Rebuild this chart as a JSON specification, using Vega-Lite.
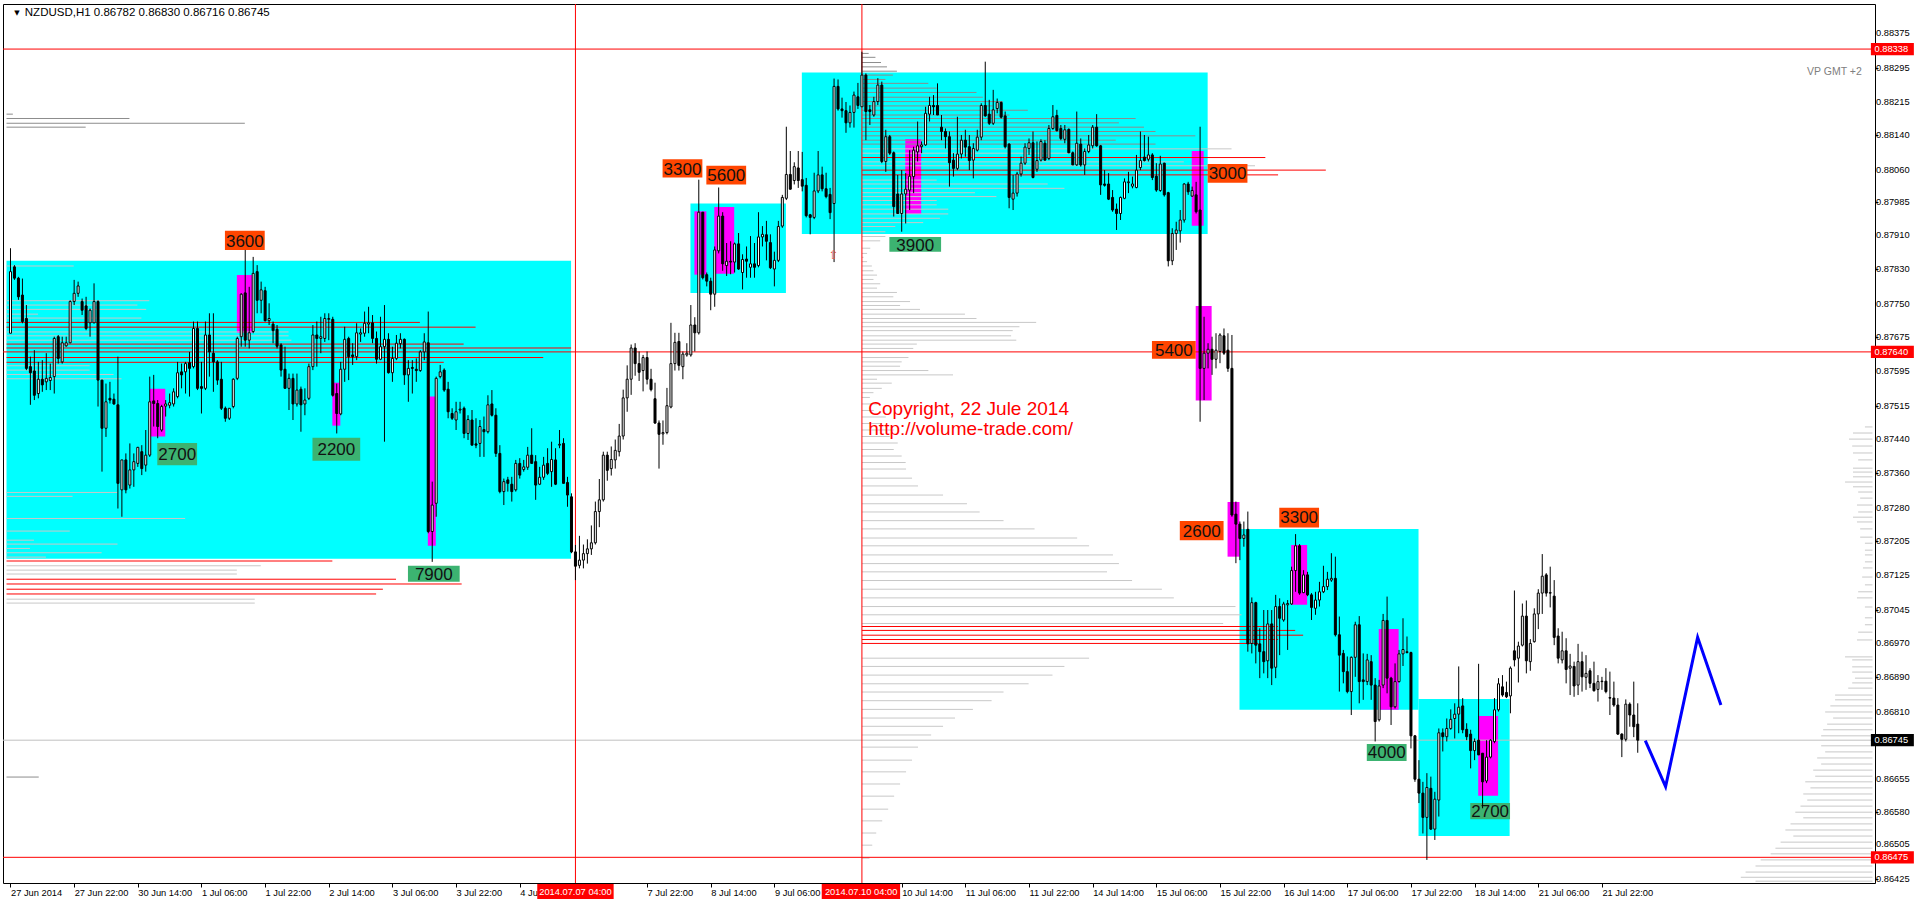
{
"$schema": "https://vega.github.io/schema/vega-lite/v6.json",
"width": 1872, "height": 879, "autosize": "none",
"padding": {"left": 3, "top": 4, "right": 45, "bottom": 20},
"background": "white",
"config": {"view": {"stroke": "#000000", "strokeWidth": 1}},
"layer": [
{"data": {"values": [{"i1":-1,"i2":140.9,"p1":0.87163,"p2":0.87850},{"i1":170.9,"i2":194.9,"p1":0.87776,"p2":0.87982},{"i1":198.9,"i2":300.9,"p1":0.87912,"p2":0.88284},{"i1":308.9,"i2":353.9,"p1":0.86815,"p2":0.87232},{"i1":353.9,"i2":376.8,"p1":0.86524,"p2":0.86840}]},
 "mark": {"type": "rect", "color": "#00FFFF", "clip": true},
 "encoding": {"x": {"field": "i1", "type": "quantitative", "scale": {"domain": [-0.625, 467.375], "nice": false, "zero": false},
     "axis": {"orient": "bottom", "values": [0,16,32,48,64,80,96,112,128,144,160,176,192,208,224,240,256,272,288,304,320,336,352,368,384,400],
      "labelExpr": "['27 Jun 2014','27 Jun 22:00','30 Jun 14:00','1 Jul 06:00','1 Jul 22:00','2 Jul 14:00','3 Jul 06:00','3 Jul 22:00','4 Ju','','7 Jul 22:00','8 Jul 14:00','9 Jul 06:00','','10 Jul 14:00','11 Jul 06:00','11 Jul 22:00','14 Jul 14:00','15 Jul 06:00','15 Jul 22:00','16 Jul 14:00','17 Jul 06:00','17 Jul 22:00','18 Jul 14:00','21 Jul 06:00','21 Jul 22:00'][round(datum.value/16)]",
      "title": null, "grid": false, "domain": false, "ticks": true, "tickSize": 4, "tickColor": "#000000", "labelAlign": "left", "labelBaseline": "top", "labelPadding": 1,
      "labelFont": "Liberation Sans", "labelFontSize": 9.3, "labelColor": "#000000", "labelOverlap": false, "labelFlush": false, "labelBound": false}},
  "x2": {"field": "i2"},
  "y": {"field": "p1", "type": "quantitative", "scale": {"domain": [0.864158, 0.884419], "nice": false, "zero": false},
     "axis": {"orient": "right", "values": [0.88375,0.88295,0.88215,0.8814,0.8806,0.87985,0.8791,0.8783,0.8775,0.87675,0.87595,0.87515,0.8744,0.8736,0.8728,0.87205,0.87125,0.87045,0.8697,0.8689,0.8681,0.86735,0.86655,0.8658,0.86505,0.86425],
      "labels": false, "title": null, "grid": false, "domain": false, "tickSize": 3, "tickColor": "#000000"}},
  "y2": {"field": "p2"}}},
{"data": {"values": [{"i1":35.05,"i2":38.9,"p1":0.87445,"p2":0.87555},{"i1":56.9,"i2":60.9,"p1":0.87684,"p2":0.87817},{"i1":80.9,"i2":82.9,"p1":0.87470,"p2":0.87569},{"i1":104.9,"i2":106.9,"p1":0.87193,"p2":0.87537},{"i1":171.9,"i2":174.9,"p1":0.87818,"p2":0.87964},{"i1":176.9,"i2":181.9,"p1":0.87820,"p2":0.87974},{"i1":224.9,"i2":228.9,"p1":0.87958,"p2":0.88131},{"i1":296.9,"i2":299.9,"p1":0.87931,"p2":0.88103},{"i1":297.9,"i2":301.9,"p1":0.87528,"p2":0.87746},{"i1":305.9,"i2":308.9,"p1":0.87168,"p2":0.87294},{"i1":321.9,"i2":325.9,"p1":0.87057,"p2":0.87195},{"i1":343.9,"i2":348.9,"p1":0.86815,"p2":0.87001},{"i1":368.9,"i2":373.9,"p1":0.86617,"p2":0.86801}]},
 "mark": {"type": "rect", "color": "#FF00FF", "clip": true},
 "encoding": {"x": {"field": "i1", "type": "quantitative", "scale": {"domain": [-0.625, 467.375], "nice": false, "zero": false}}, "x2": {"field": "i2"},
  "y": {"field": "p1", "type": "quantitative", "scale": {"domain": [0.864158, 0.884419], "nice": false, "zero": false}}, "y2": {"field": "p2"}}},
{"data": {"values": "i1,i2,p,k\n-1,0.6,0.88188,d\n-1,29.9,0.88178,d\n-1,58.9,0.88167,d\n-1,18.9,0.88158,d\n-1,15.9,0.87838,s\n-1,34.9,0.87758,s\n-1,31.9,0.87748,s\n-1,34.1,0.87738,s\n-1,6.9,0.87727,s\n-1,32.9,0.87718,s\n-1,102.9,0.87708,r\n-1,116.9,0.87697,r\n-1,69.9,0.87686,s\n-1,69.9,0.87677,s\n-1,70.6,0.87667,s\n-1,113.9,0.87658,r\n-1,140.9,0.87649,r\n-1,133.9,0.87627,r\n-1,108.9,0.87616,r\n-1,19.9,0.87608,s\n-1,19.9,0.87598,s\n-1,25.9,0.87588,s\n-1,27.9,0.87578,s\n-1,26.9,0.87316,s\n-1,15.6,0.87307,s\n-1,43.9,0.87256,s\n-1,14.9,0.87227,s\n-1,5.9,0.87206,s\n-1,26.9,0.87197,s\n-1,4.9,0.87187,s\n-1,22.9,0.87177,s\n-1,8.9,0.87167,s\n-1,80.9,0.87158,r\n-1,62.9,0.87147,s\n-1,56.9,0.87137,s\n-1,56.9,0.87128,s\n-1,96.9,0.87116,r\n-1,113.4,0.87105,r\n-1,93.6,0.87093,r\n-1,91.9,0.87082,r\n-1,61.4,0.87070,s\n-1,61.4,0.87061,s\n-1,7.1,0.86660,d\n214,215.7,0.88328,d\n214,217.4,0.88319,d\n214,218.8,0.88307,d\n214,220.3,0.88297,d\n214,222.8,0.88287,d\n214,221.8,0.88278,d\n214,219.9,0.88268,d\n214,230.7,0.88259,d\n214,232.8,0.88248,d\n214,242.8,0.88238,d\n214,244.4,0.88227,d\n214,249.4,0.88217,d\n214,246.9,0.88207,d\n214,255.7,0.88197,d\n214,251.1,0.88186,d\n214,282.8,0.88178,d\n214,278.6,0.88168,d\n214,284.9,0.88158,d\n214,287.8,0.88148,d\n214,297.8,0.88138,d\n214,277.8,0.88128,d\n214,287.8,0.88119,d\n214,306.9,0.88108,s\n214,267.8,0.88098,s\n214,315.4,0.88088,r\n214,294.9,0.88078,s\n214,312.8,0.88069,s\n214,330.6,0.88059,r\n214,318.6,0.88048,r\n214,232.8,0.88036,s\n214,260.7,0.88027,s\n214,264.9,0.88017,s\n214,242.4,0.88007,s\n214,247.8,0.87998,s\n214,232.8,0.87989,s\n214,232.8,0.87979,s\n214,235.7,0.87969,s\n214,235.7,0.87958,s\n214,233.6,0.87948,s\n214,229.4,0.87938,s\n214,222.4,0.87929,s\n214,219.9,0.87917,s\n214,219.9,0.87906,s\n214,218.6,0.87896,s\n214,216.1,0.87879,s\n214,215.3,0.87867,s\n214,214.4,0.87858,s\n214,215.3,0.87848,s\n214,216.5,0.87838,s\n214,216.9,0.87827,s\n214,217.8,0.87817,s\n214,216.9,0.87807,s\n214,218.6,0.87797,s\n214,217.8,0.87787,s\n214,222.8,0.87777,s\n214,221.9,0.87767,s\n214,226.1,0.87756,s\n214,223.6,0.87747,s\n214,228.6,0.87738,s\n214,239.9,0.87727,s\n214,242.8,0.87717,s\n214,257.8,0.87708,s\n214,253.6,0.87698,s\n214,251.9,0.87689,s\n214,251.5,0.87677,s\n214,252.8,0.87667,s\n214,227.8,0.87658,s\n214,226.9,0.87648,s\n214,225.7,0.87627,s\n214,224,0.87617,s\n214,223.6,0.87607,s\n214,230.7,0.87597,s\n214,236.9,0.87587,s\n214,217.8,0.87577,s\n214,221.5,0.87568,s\n214,219,0.87556,s\n214,216.9,0.87546,s\n214,216,0.87535,s\n214,218,0.87520,s\n214,217,0.87505,s\n214,220,0.87490,s\n214,219,0.87475,s\n214,222,0.87460,s\n214,221,0.87445,s\n214,223,0.87430,s\n214,222,0.87415,s\n214,224,0.87400,s\n214,225,0.87385,s\n214,225.1,0.87370,s\n214,226.6,0.87349,s\n214,228.1,0.87331,s\n214,234.4,0.87310,s\n214,240.4,0.87290,s\n214,243.6,0.87271,s\n214,249.6,0.87251,s\n214,257.4,0.87232,s\n214,268.1,0.87211,s\n214,271.1,0.87193,s\n214,277.1,0.87172,s\n214,278.6,0.87152,s\n214,275.6,0.87133,s\n214,281.9,0.87113,s\n214,289.4,0.87093,s\n214,292.4,0.87073,s\n214,307.9,0.87053,s\n214,309.4,0.87034,s\n214,304.8,0.87014,s\n214,318.6,0.87007,r\n214,322.9,0.86998,r\n214,324.9,0.86987,r\n214,318.6,0.86977,r\n214,313.6,0.86968,r\n214,271.1,0.86934,s\n214,264.9,0.86915,s\n214,261.9,0.86895,s\n214,255.9,0.86875,s\n214,249.6,0.86856,s\n214,246.6,0.86836,s\n214,241.9,0.86816,s\n214,237.4,0.86796,s\n214,234.4,0.86777,s\n214,231.4,0.86757,s\n214,228.1,0.86729,s\n214,226.6,0.86699,s\n214,225.1,0.86672,s\n214,223.6,0.86644,s\n214,222.1,0.86616,s\n214,220.6,0.86586,s\n214,219.1,0.86559,s\n214,217.6,0.86531,s\n214,216.6,0.86503,s\n214,215.9,0.86473,s\n466.1,468,0.87467,s\n463.1,468,0.87453,s\n462.1,468,0.87439,s\n462.9,468,0.87423,s\n463.1,468,0.87407,s\n464.4,468,0.87391,s\n463.1,468,0.87372,s\n463.1,468,0.87363,s\n463.1,468,0.87352,s\n461.1,468,0.87340,s\n463.1,468,0.87329,s\n464.4,468,0.87317,s\n464.9,468,0.87303,s\n464.1,468,0.87287,s\n464.4,468,0.87271,s\n463.1,468,0.87259,s\n464.1,468,0.87248,s\n464.9,468,0.87232,s\n464.9,468,0.87213,s\n466.1,468,0.87199,s\n466.1,468,0.87183,s\n466.1,468,0.87172,s\n466.1,468,0.87156,s\n465.6,468,0.87142,s\n465.4,468,0.87121,s\n466.1,468,0.87103,s\n464.4,468,0.87087,s\n464.1,468,0.87073,s\n466.1,468,0.87052,s\n466.1,468,0.87027,s\n466.1,468,0.87011,s\n464.4,468,0.86994,s\n464.1,468,0.86976,s\n461.1,468,0.86937,s\n462.9,468,0.86930,s\n462.9,468,0.86914,s\n462.9,468,0.86902,s\n463.6,468,0.86888,s\n462.9,468,0.86877,s\n461.9,468,0.86865,s\n458.6,468,0.86849,s\n458.6,468,0.86838,s\n457.4,468,0.86824,s\n456.1,468,0.86810,s\n458.1,468,0.86796,s\n456.6,468,0.86782,s\n455.6,468,0.86769,s\n455.1,468,0.86755,s\n455.1,468,0.86732,s\n456.1,468,0.86718,s\n454.1,468,0.86704,s\n455.1,468,0.86690,s\n453.1,468,0.86676,s\n453.6,468,0.86662,s\n451.1,468,0.86649,s\n452.4,468,0.86635,s\n450.6,468,0.86621,s\n451.6,468,0.86607,s\n449.9,468,0.86593,s\n448.6,468,0.86579,s\n450.6,468,0.86566,s\n447.4,468,0.86552,s\n446.1,468,0.86538,s\n448.1,468,0.86524,s\n444.9,468,0.86510,s\n443.6,468,0.86496,s\n442.4,468,0.86483,s\n439.9,468,0.86469,s\n438.6,468,0.86455,s\n436.1,468,0.86441,s\n434.9,468,0.86429,s\n438.6,468,0.86420,s", "format": {"type": "csv", "parse": {"i1": "number", "i2": "number", "p": "number"}}},
 "mark": {"type": "rule", "strokeWidth": 1, "clip": true},
 "encoding": {"x": {"field": "i1", "type": "quantitative", "scale": {"domain": [-0.625, 467.375], "nice": false, "zero": false}}, "x2": {"field": "i2"},
  "y": {"field": "p", "type": "quantitative", "scale": {"domain": [0.864158, 0.884419], "nice": false, "zero": false}},
  "color": {"field": "k", "type": "nominal", "scale": {"domain": ["d", "s", "r"], "range": ["#8C8C8C", "#C8C8C8", "#FF0000"]}, "legend": null}}},
{"data": {"values": [{"p": 0.86745}]},
 "mark": {"type": "rule", "color": "#C0C0C0", "strokeWidth": 1},
 "encoding": {"y": {"field": "p", "type": "quantitative", "scale": {"domain": [0.864158, 0.884419], "nice": false, "zero": false}}}},
{"data": {"values": [{"p": 0.88338}, {"p": 0.87640}, {"p": 0.86475}]},
 "mark": {"type": "rule", "color": "#FF0000", "strokeWidth": 1},
 "encoding": {"y": {"field": "p", "type": "quantitative", "scale": {"domain": [0.864158, 0.884419], "nice": false, "zero": false}}}},
{"data": {"values": [{"i": 142}, {"i": 214}]},
 "mark": {"type": "rule", "color": "#FF0000", "strokeWidth": 1},
 "encoding": {"x": {"field": "i", "type": "quantitative", "scale": {"domain": [-0.625, 467.375], "nice": false, "zero": false}}}},
{"data": {"values": [
  {"t":"3600","g":"o","i1":53.9,"i2":63.9,"p1":0.87875,"p2":0.87919,"ic":58.9,"pc":0.87894},
  {"t":"3300","g":"o","i1":163.9,"i2":173.9,"p1":0.88042,"p2":0.88084,"ic":168.9,"pc":0.88060},
  {"t":"5600","g":"o","i1":174.9,"i2":184.9,"p1":0.88026,"p2":0.88069,"ic":179.9,"pc":0.88045},
  {"t":"3000","g":"o","i1":300.9,"i2":310.9,"p1":0.88030,"p2":0.88073,"ic":305.9,"pc":0.88049},
  {"t":"5400","g":"o","i1":286.9,"i2":297.9,"p1":0.87624,"p2":0.87665,"ic":292.4,"pc":0.87642},
  {"t":"2600","g":"o","i1":293.9,"i2":304.9,"p1":0.87206,"p2":0.87250,"ic":299.4,"pc":0.87226},
  {"t":"3300","g":"o","i1":318.9,"i2":328.9,"p1":0.87235,"p2":0.87281,"ic":323.9,"pc":0.87256},
  {"t":"2700","g":"g","i1":36.9,"i2":46.9,"p1":0.87379,"p2":0.87430,"ic":41.9,"pc":0.87402},
  {"t":"2200","g":"g","i1":75.9,"i2":87.9,"p1":0.87389,"p2":0.87442,"ic":81.9,"pc":0.87413},
  {"t":"7900","g":"g","i1":99.9,"i2":112.9,"p1":0.87110,"p2":0.87147,"ic":106.4,"pc":0.87126},
  {"t":"3900","g":"g","i1":220.9,"i2":233.9,"p1":0.87871,"p2":0.87905,"ic":227.4,"pc":0.87885},
  {"t":"4000","g":"g","i1":340.9,"i2":350.9,"p1":0.86697,"p2":0.86736,"ic":345.9,"pc":0.86715},
  {"t":"2700","g":"g","i1":366.9,"i2":376.9,"p1":0.86563,"p2":0.86600,"ic":371.9,"pc":0.86580}]},
 "layer": [
  {"mark": {"type": "rect"},
   "encoding": {"x": {"field": "i1", "type": "quantitative", "scale": {"domain": [-0.625, 467.375], "nice": false, "zero": false}}, "x2": {"field": "i2"},
    "y": {"field": "p1", "type": "quantitative", "scale": {"domain": [0.864158, 0.884419], "nice": false, "zero": false}}, "y2": {"field": "p2"},
    "color": {"condition": {"test": "datum.g === 'o'", "value": "#FF4500"}, "value": "#3CB371"}}},
  {"mark": {"type": "text", "font": "Liberation Sans", "fontSize": 17, "color": "#111111", "align": "center", "baseline": "middle"},
   "encoding": {"x": {"field": "ic", "type": "quantitative", "scale": {"domain": [-0.625, 467.375], "nice": false, "zero": false}},
    "y": {"field": "pc", "type": "quantitative", "scale": {"domain": [0.864158, 0.884419], "nice": false, "zero": false}},
    "text": {"field": "t"}}}]},
{"data": {"values": "i,o,h,l,c\n0,0.87683,0.87879,0.87683,0.87825\n1,0.87836,0.87840,0.87806,0.87810\n2,0.87810,0.87813,0.87760,0.87767\n3,0.87771,0.87809,0.87706,0.87710\n4,0.87717,0.87748,0.87598,0.87602\n5,0.87606,0.87629,0.87518,0.87592\n6,0.87596,0.87644,0.87529,0.87540\n7,0.87544,0.87617,0.87533,0.87577\n8,0.87577,0.87621,0.87548,0.87564\n9,0.87571,0.87637,0.87552,0.87579\n10,0.87574,0.87613,0.87552,0.87581\n11,0.87583,0.87675,0.87544,0.87671\n12,0.87675,0.87679,0.87613,0.87625\n13,0.87617,0.87675,0.87613,0.87661\n14,0.87654,0.87675,0.87652,0.87661\n15,0.87661,0.87759,0.87660,0.87756\n16,0.87756,0.87806,0.87748,0.87775\n17,0.87775,0.87802,0.87767,0.87792\n18,0.87756,0.87763,0.87725,0.87736\n19,0.87746,0.87767,0.87690,0.87694\n20,0.87707,0.87740,0.87675,0.87736\n21,0.87707,0.87798,0.87706,0.87756\n22,0.87756,0.87759,0.87514,0.87575\n23,0.87575,0.87575,0.87364,0.87464\n24,0.87464,0.87567,0.87444,0.87525\n25,0.87533,0.87571,0.87521,0.87529\n26,0.87531,0.87544,0.87518,0.87520\n27,0.87518,0.87629,0.87279,0.87337\n28,0.87322,0.87391,0.87260,0.87391\n29,0.87391,0.87406,0.87314,0.87322\n30,0.87333,0.87429,0.87325,0.87368\n31,0.87368,0.87406,0.87329,0.87387\n32,0.87383,0.87421,0.87375,0.87420\n33,0.87410,0.87425,0.87356,0.87371\n34,0.87379,0.87460,0.87364,0.87402\n35,0.87402,0.87583,0.87398,0.87525\n36,0.87527,0.87587,0.87468,0.87521\n37,0.87521,0.87529,0.87441,0.87468\n38,0.87460,0.87518,0.87456,0.87514\n39,0.87515,0.87529,0.87491,0.87520\n40,0.87517,0.87544,0.87510,0.87523\n41,0.87520,0.87556,0.87514,0.87548\n42,0.87537,0.87617,0.87533,0.87592\n43,0.87594,0.87613,0.87556,0.87587\n44,0.87594,0.87617,0.87544,0.87613\n45,0.87615,0.87640,0.87537,0.87602\n46,0.87606,0.87710,0.87602,0.87694\n47,0.87694,0.87710,0.87552,0.87556\n48,0.87560,0.87617,0.87498,0.87556\n49,0.87556,0.87710,0.87552,0.87679\n50,0.87679,0.87729,0.87583,0.87640\n51,0.87637,0.87729,0.87548,0.87617\n52,0.87617,0.87621,0.87564,0.87575\n53,0.87577,0.87617,0.87506,0.87510\n54,0.87510,0.87514,0.87479,0.87487\n55,0.87487,0.87510,0.87483,0.87510\n56,0.87514,0.87579,0.87510,0.87577\n57,0.87579,0.87675,0.87575,0.87671\n58,0.87675,0.87775,0.87652,0.87773\n59,0.87776,0.87875,0.87652,0.87667\n60,0.87667,0.87790,0.87648,0.87684\n61,0.87687,0.87859,0.87683,0.87821\n62,0.87825,0.87840,0.87729,0.87759\n63,0.87759,0.87802,0.87729,0.87783\n64,0.87781,0.87790,0.87710,0.87712\n65,0.87712,0.87752,0.87702,0.87717\n66,0.87704,0.87710,0.87660,0.87689\n67,0.87692,0.87702,0.87648,0.87653\n68,0.87656,0.87660,0.87583,0.87598\n69,0.87600,0.87652,0.87556,0.87556\n70,0.87556,0.87590,0.87506,0.87579\n71,0.87579,0.87590,0.87483,0.87520\n72,0.87520,0.87590,0.87514,0.87552\n73,0.87554,0.87560,0.87456,0.87518\n74,0.87520,0.87556,0.87494,0.87529\n75,0.87533,0.87613,0.87529,0.87606\n76,0.87606,0.87702,0.87598,0.87679\n77,0.87679,0.87710,0.87606,0.87671\n78,0.87671,0.87721,0.87637,0.87675\n79,0.87671,0.87729,0.87663,0.87717\n80,0.87715,0.87729,0.87667,0.87717\n81,0.87715,0.87721,0.87537,0.87540\n82,0.87544,0.87567,0.87452,0.87498\n83,0.87497,0.87617,0.87494,0.87600\n84,0.87600,0.87698,0.87571,0.87669\n85,0.87671,0.87675,0.87575,0.87629\n86,0.87633,0.87660,0.87610,0.87629\n87,0.87629,0.87706,0.87621,0.87684\n88,0.87681,0.87694,0.87663,0.87684\n89,0.87683,0.87733,0.87675,0.87706\n90,0.87704,0.87744,0.87683,0.87707\n91,0.87707,0.87725,0.87660,0.87671\n92,0.87671,0.87687,0.87613,0.87623\n93,0.87623,0.87721,0.87621,0.87652\n94,0.87652,0.87748,0.87433,0.87669\n95,0.87669,0.87683,0.87590,0.87592\n96,0.87592,0.87652,0.87571,0.87625\n97,0.87625,0.87679,0.87621,0.87660\n98,0.87659,0.87683,0.87648,0.87669\n99,0.87669,0.87671,0.87564,0.87587\n100,0.87587,0.87621,0.87525,0.87602\n101,0.87604,0.87621,0.87544,0.87602\n102,0.87600,0.87625,0.87571,0.87597\n103,0.87597,0.87644,0.87594,0.87640\n104,0.87640,0.87683,0.87621,0.87663\n105,0.87661,0.87733,0.87222,0.87226\n106,0.87226,0.87341,0.87156,0.87287\n107,0.87291,0.87583,0.87260,0.87579\n108,0.87583,0.87610,0.87579,0.87594\n109,0.87598,0.87602,0.87548,0.87552\n110,0.87554,0.87571,0.87487,0.87502\n111,0.87498,0.87510,0.87483,0.87487\n112,0.87483,0.87525,0.87460,0.87502\n113,0.87506,0.87525,0.87498,0.87508\n114,0.87510,0.87514,0.87441,0.87452\n115,0.87452,0.87494,0.87437,0.87484\n116,0.87483,0.87506,0.87425,0.87425\n117,0.87428,0.87487,0.87418,0.87425\n118,0.87429,0.87483,0.87398,0.87468\n119,0.87461,0.87491,0.87398,0.87456\n120,0.87456,0.87540,0.87452,0.87518\n121,0.87520,0.87552,0.87491,0.87494\n122,0.87494,0.87510,0.87398,0.87406\n123,0.87406,0.87425,0.87314,0.87318\n124,0.87318,0.87348,0.87287,0.87341\n125,0.87345,0.87352,0.87318,0.87337\n126,0.87335,0.87352,0.87295,0.87318\n127,0.87322,0.87391,0.87318,0.87383\n128,0.87383,0.87395,0.87348,0.87356\n129,0.87369,0.87391,0.87364,0.87375\n130,0.87374,0.87421,0.87368,0.87402\n131,0.87402,0.87464,0.87383,0.87383\n132,0.87387,0.87402,0.87299,0.87333\n133,0.87335,0.87375,0.87333,0.87351\n134,0.87351,0.87398,0.87345,0.87379\n135,0.87383,0.87418,0.87356,0.87360\n136,0.87364,0.87433,0.87329,0.87392\n137,0.87391,0.87418,0.87333,0.87335\n138,0.87425,0.87460,0.87418,0.87427\n139,0.87429,0.87441,0.87337,0.87337\n140,0.87339,0.87352,0.87283,0.87310\n141,0.87306,0.87314,0.87176,0.87179\n142,0.87179,0.87195,0.87114,0.87146\n143,0.87148,0.87216,0.87141,0.87160\n144,0.87160,0.87196,0.87141,0.87175\n145,0.87175,0.87208,0.87152,0.87186\n146,0.87186,0.87240,0.87172,0.87200\n147,0.87200,0.87295,0.87196,0.87272\n148,0.87272,0.87347,0.87236,0.87299\n149,0.87299,0.87410,0.87295,0.87402\n150,0.87402,0.87410,0.87343,0.87367\n151,0.87371,0.87422,0.87355,0.87392\n152,0.87391,0.87438,0.87371,0.87413\n153,0.87410,0.87474,0.87399,0.87446\n154,0.87446,0.87553,0.87438,0.87534\n155,0.87534,0.87609,0.87502,0.87577\n156,0.87577,0.87657,0.87541,0.87649\n157,0.87649,0.87660,0.87585,0.87613\n158,0.87613,0.87641,0.87573,0.87593\n159,0.87597,0.87633,0.87549,0.87627\n160,0.87627,0.87641,0.87565,0.87577\n161,0.87577,0.87601,0.87549,0.87553\n162,0.87532,0.87569,0.87474,0.87476\n163,0.87476,0.87482,0.87371,0.87450\n164,0.87451,0.87482,0.87426,0.87454\n165,0.87454,0.87557,0.87450,0.87516\n166,0.87513,0.87707,0.87510,0.87613\n167,0.87613,0.87684,0.87597,0.87662\n168,0.87664,0.87684,0.87597,0.87609\n169,0.87606,0.87641,0.87577,0.87635\n170,0.87633,0.87660,0.87629,0.87637\n171,0.87633,0.87748,0.87629,0.87702\n172,0.87702,0.87720,0.87641,0.87684\n173,0.87684,0.88037,0.87680,0.87962\n174,0.87962,0.87962,0.87807,0.87811\n175,0.87818,0.87823,0.87791,0.87803\n176,0.87803,0.87811,0.87736,0.87773\n177,0.87773,0.87883,0.87744,0.87875\n178,0.87873,0.88019,0.87867,0.87953\n179,0.87953,0.87962,0.87827,0.87843\n180,0.87839,0.87891,0.87815,0.87849\n181,0.87849,0.87895,0.87819,0.87847\n182,0.87847,0.87892,0.87823,0.87889\n183,0.87889,0.87914,0.87829,0.87831\n184,0.87823,0.87865,0.87784,0.87853\n185,0.87854,0.87883,0.87811,0.87849\n186,0.87835,0.87907,0.87811,0.87843\n187,0.87843,0.87891,0.87811,0.87835\n188,0.87839,0.87962,0.87835,0.87905\n189,0.87905,0.87930,0.87883,0.87911\n190,0.87910,0.87942,0.87851,0.87895\n191,0.87892,0.87911,0.87831,0.87834\n192,0.87831,0.87871,0.87791,0.87851\n193,0.87851,0.87942,0.87847,0.87929\n194,0.87930,0.88002,0.87926,0.87996\n195,0.87994,0.88159,0.87990,0.88049\n196,0.88049,0.88103,0.88014,0.88015\n197,0.88035,0.88077,0.88026,0.88067\n198,0.88064,0.88103,0.88018,0.88035\n199,0.88037,0.88101,0.88010,0.88022\n200,0.88024,0.88041,0.87950,0.87954\n201,0.87956,0.87958,0.87911,0.87950\n202,0.87950,0.88053,0.87946,0.88011\n203,0.88011,0.88103,0.88006,0.88048\n204,0.88048,0.88067,0.88010,0.88016\n205,0.88016,0.88053,0.87994,0.87998\n206,0.88003,0.88018,0.87946,0.87961\n207,0.87982,0.88270,0.87847,0.88252\n208,0.88252,0.88268,0.88196,0.88200\n209,0.88200,0.88226,0.88180,0.88196\n210,0.88196,0.88216,0.88145,0.88168\n211,0.88168,0.88208,0.88157,0.88192\n212,0.88192,0.88240,0.88157,0.88232\n213,0.88228,0.88260,0.88200,0.88208\n214,0.88205,0.88332,0.88205,0.88278\n215,0.88278,0.88282,0.88128,0.88194\n216,0.88198,0.88209,0.88163,0.88194\n217,0.88186,0.88228,0.88182,0.88217\n218,0.88217,0.88271,0.88209,0.88255\n219,0.88255,0.88263,0.88075,0.88079\n220,0.88079,0.88152,0.88055,0.88136\n221,0.88136,0.88140,0.88094,0.88098\n222,0.88099,0.88102,0.87952,0.87975\n223,0.88004,0.88048,0.87959,0.87959\n224,0.87959,0.88059,0.87917,0.88004\n225,0.88004,0.88052,0.87936,0.88015\n226,0.88013,0.88105,0.87967,0.88045\n227,0.88044,0.88113,0.88006,0.88105\n228,0.88101,0.88171,0.88079,0.88115\n229,0.88113,0.88125,0.88098,0.88117\n230,0.88117,0.88205,0.88115,0.88190\n231,0.88188,0.88228,0.88171,0.88208\n232,0.88208,0.88232,0.88186,0.88205\n233,0.88208,0.88259,0.88186,0.88186\n234,0.88158,0.88186,0.88128,0.88148\n235,0.88148,0.88155,0.88109,0.88136\n236,0.88136,0.88148,0.88021,0.88076\n237,0.88082,0.88098,0.88044,0.88063\n238,0.88063,0.88182,0.88059,0.88096\n239,0.88096,0.88140,0.88086,0.88128\n240,0.88128,0.88152,0.88090,0.88112\n241,0.88113,0.88140,0.88059,0.88081\n242,0.88082,0.88121,0.88040,0.88109\n243,0.88105,0.88152,0.88102,0.88135\n244,0.88135,0.88213,0.88128,0.88208\n245,0.88208,0.88309,0.88182,0.88184\n246,0.88188,0.88221,0.88163,0.88167\n247,0.88167,0.88244,0.88163,0.88198\n248,0.88201,0.88224,0.88190,0.88215\n249,0.88215,0.88217,0.88178,0.88181\n250,0.88184,0.88194,0.88109,0.88113\n251,0.88119,0.88121,0.87971,0.87996\n252,0.87992,0.88048,0.87967,0.88006\n253,0.88006,0.88055,0.87998,0.88050\n254,0.88050,0.88090,0.88044,0.88075\n255,0.88075,0.88121,0.88071,0.88112\n256,0.88109,0.88132,0.88094,0.88122\n257,0.88122,0.88148,0.88040,0.88042\n258,0.88061,0.88125,0.88055,0.88081\n259,0.88082,0.88130,0.88079,0.88125\n260,0.88121,0.88128,0.88081,0.88082\n261,0.88086,0.88163,0.88082,0.88155\n262,0.88155,0.88209,0.88152,0.88182\n263,0.88185,0.88198,0.88148,0.88150\n264,0.88155,0.88163,0.88128,0.88132\n265,0.88130,0.88163,0.88121,0.88152\n266,0.88153,0.88155,0.88098,0.88099\n267,0.88099,0.88102,0.88071,0.88071\n268,0.88071,0.88194,0.88069,0.88121\n269,0.88119,0.88132,0.88067,0.88071\n270,0.88071,0.88109,0.88048,0.88102\n271,0.88102,0.88140,0.88098,0.88117\n272,0.88115,0.88163,0.88109,0.88158\n273,0.88158,0.88188,0.88113,0.88115\n274,0.88115,0.88117,0.88002,0.88025\n275,0.88027,0.88059,0.88021,0.88024\n276,0.88027,0.88052,0.87990,0.87992\n277,0.87996,0.88013,0.87963,0.87967\n278,0.87969,0.87982,0.87921,0.87959\n279,0.87959,0.87998,0.87944,0.87996\n280,0.87994,0.88040,0.87992,0.88032\n281,0.88030,0.88055,0.88006,0.88032\n282,0.88022,0.88044,0.88017,0.88027\n283,0.88019,0.88094,0.88017,0.88059\n284,0.88065,0.88148,0.88059,0.88081\n285,0.88089,0.88140,0.88079,0.88081\n286,0.88084,0.88136,0.88079,0.88094\n287,0.88094,0.88098,0.88036,0.88042\n288,0.88045,0.88075,0.88009,0.88013\n289,0.88012,0.88092,0.88009,0.88073\n290,0.88075,0.88076,0.87998,0.88002\n291,0.88007,0.88009,0.87837,0.87850\n292,0.87850,0.87925,0.87840,0.87913\n293,0.87913,0.87940,0.87875,0.87921\n294,0.87919,0.87967,0.87892,0.87944\n295,0.87944,0.88029,0.87938,0.88027\n296,0.88027,0.88032,0.88002,0.88009\n297,0.87999,0.88021,0.87998,0.88012\n298,0.88002,0.88032,0.87959,0.87963\n299,0.87967,0.88159,0.87479,0.87602\n300,0.87602,0.87721,0.87529,0.87637\n301,0.87637,0.87660,0.87602,0.87646\n302,0.87646,0.87675,0.87587,0.87623\n303,0.87623,0.87683,0.87602,0.87644\n304,0.87641,0.87683,0.87614,0.87679\n305,0.87677,0.87694,0.87633,0.87637\n306,0.87644,0.87683,0.87594,0.87602\n307,0.87602,0.87679,0.87260,0.87264\n308,0.87266,0.87295,0.87153,0.87243\n309,0.87243,0.87249,0.87160,0.87210\n310,0.87210,0.87249,0.87191,0.87218\n311,0.87231,0.87272,0.86949,0.86967\n312,0.86968,0.87074,0.86945,0.87062\n313,0.87062,0.87064,0.86922,0.86964\n314,0.86967,0.87003,0.86888,0.86949\n315,0.86949,0.87045,0.86899,0.86926\n316,0.86928,0.87045,0.86888,0.87013\n317,0.87013,0.87045,0.86872,0.86911\n318,0.86913,0.87080,0.86888,0.87053\n319,0.87053,0.87072,0.86941,0.87026\n320,0.87022,0.87064,0.87018,0.87059\n321,0.87057,0.87068,0.86953,0.87060\n322,0.87059,0.87145,0.87057,0.87136\n323,0.87136,0.87220,0.87087,0.87193\n324,0.87193,0.87197,0.87080,0.87084\n325,0.87085,0.87137,0.87084,0.87126\n326,0.87126,0.87133,0.87077,0.87080\n327,0.87080,0.87084,0.87022,0.87051\n328,0.87049,0.87087,0.87034,0.87068\n329,0.87068,0.87110,0.87053,0.87087\n330,0.87087,0.87147,0.87084,0.87099\n331,0.87099,0.87133,0.87091,0.87116\n332,0.87114,0.87176,0.87110,0.87118\n333,0.87118,0.87168,0.86984,0.86988\n334,0.86988,0.87030,0.86857,0.86941\n335,0.86945,0.86953,0.86876,0.86903\n336,0.86903,0.86938,0.86853,0.86857\n337,0.86857,0.86938,0.86803,0.86936\n338,0.86936,0.87018,0.86891,0.87011\n339,0.87011,0.87031,0.86830,0.86880\n340,0.86884,0.86945,0.86838,0.86880\n341,0.86880,0.86944,0.86872,0.86930\n342,0.86926,0.86941,0.86838,0.86872\n343,0.86872,0.86888,0.86742,0.86788\n344,0.86792,0.86884,0.86788,0.86870\n345,0.86872,0.87036,0.86865,0.87021\n346,0.87021,0.87076,0.86853,0.86888\n347,0.86888,0.86891,0.86780,0.86822\n348,0.86822,0.86922,0.86818,0.86880\n349,0.86880,0.86953,0.86878,0.86944\n350,0.86944,0.87026,0.86916,0.86954\n351,0.86947,0.86984,0.86945,0.86949\n352,0.86947,0.86949,0.86726,0.86755\n353,0.86755,0.86757,0.86649,0.86655\n354,0.86655,0.86699,0.86600,0.86623\n355,0.86623,0.86649,0.86530,0.86567\n356,0.86567,0.86669,0.86469,0.86636\n357,0.86634,0.86661,0.86538,0.86540\n358,0.86540,0.86626,0.86515,0.86609\n359,0.86607,0.86772,0.86569,0.86762\n360,0.86762,0.86772,0.86719,0.86753\n361,0.86753,0.86795,0.86742,0.86772\n362,0.86772,0.86816,0.86769,0.86793\n363,0.86795,0.86830,0.86749,0.86805\n364,0.86805,0.86915,0.86761,0.86821\n365,0.86824,0.86842,0.86761,0.86769\n366,0.86770,0.86784,0.86745,0.86753\n367,0.86759,0.86769,0.86680,0.86721\n368,0.86721,0.86749,0.86699,0.86742\n369,0.86745,0.86921,0.86711,0.86711\n370,0.86715,0.86715,0.86588,0.86649\n371,0.86651,0.86745,0.86646,0.86706\n372,0.86706,0.86747,0.86703,0.86745\n373,0.86742,0.86842,0.86738,0.86815\n374,0.86815,0.86888,0.86811,0.86875\n375,0.86868,0.86895,0.86845,0.86849\n376,0.86855,0.86880,0.86842,0.86845\n377,0.86847,0.86915,0.86807,0.86911\n378,0.86951,0.87090,0.86915,0.86930\n379,0.86934,0.86972,0.86878,0.86962\n380,0.86964,0.87060,0.86961,0.87031\n381,0.87031,0.87067,0.86899,0.86928\n382,0.86926,0.86978,0.86905,0.86968\n383,0.86972,0.87049,0.86970,0.87036\n384,0.87036,0.87093,0.87001,0.87084\n385,0.87084,0.87174,0.87036,0.87123\n386,0.87126,0.87130,0.87076,0.87084\n387,0.87085,0.87145,0.87051,0.87084\n388,0.87077,0.87114,0.86964,0.86982\n389,0.86985,0.87003,0.86922,0.86934\n390,0.86930,0.86995,0.86922,0.86951\n391,0.86951,0.86980,0.86876,0.86908\n392,0.86911,0.86944,0.86849,0.86916\n393,0.86915,0.86926,0.86845,0.86870\n394,0.86872,0.86967,0.86849,0.86926\n395,0.86926,0.86949,0.86857,0.86891\n396,0.86890,0.86941,0.86861,0.86899\n397,0.86905,0.86911,0.86865,0.86876\n398,0.86876,0.86926,0.86857,0.86859\n399,0.86862,0.86895,0.86834,0.86880\n400,0.86880,0.86891,0.86861,0.86881\n401,0.86881,0.86911,0.86853,0.86857\n402,0.86843,0.86903,0.86803,0.86842\n403,0.86842,0.86880,0.86822,0.86826\n404,0.86826,0.86842,0.86757,0.86759\n405,0.86759,0.86761,0.86706,0.86747\n406,0.86747,0.86839,0.86742,0.86828\n407,0.86828,0.86832,0.86776,0.86803\n408,0.86803,0.86880,0.86752,0.86776\n409,0.86782,0.86830,0.86716,0.86745", "format": {"type": "csv", "parse": {"i": "number", "o": "number", "h": "number", "l": "number", "c": "number"}}},
 "layer": [
  {"mark": {"type": "rule", "color": "#000000", "strokeWidth": 1},
   "encoding": {"x": {"field": "i", "type": "quantitative", "scale": {"domain": [-0.625, 467.375], "nice": false, "zero": false}},
    "y": {"field": "l", "type": "quantitative", "scale": {"domain": [0.864158, 0.884419], "nice": false, "zero": false}},
    "y2": {"field": "h"}}},
  {"mark": {"type": "bar", "width": 2, "stroke": "#000000", "strokeWidth": 1},
   "encoding": {"x": {"field": "i", "type": "quantitative", "scale": {"domain": [-0.625, 467.375], "nice": false, "zero": false}},
    "y": {"field": "o", "type": "quantitative", "scale": {"domain": [0.864158, 0.884419], "nice": false, "zero": false}},
    "y2": {"field": "c"},
    "fill": {"condition": {"test": "datum.c >= datum.o", "value": "#FFFFFF"}, "value": "#000000"}}}]},
{"data": {"values": [{"i": 410.9, "p": 0.86744}, {"i": 416, "p": 0.86638}, {"i": 424.05, "p": 0.86982}, {"i": 429.9, "p": 0.86826}]},
 "mark": {"type": "line", "color": "#0000FF", "strokeWidth": 3},
 "encoding": {"x": {"field": "i", "type": "quantitative", "scale": {"domain": [-0.625, 467.375], "nice": false, "zero": false}},
  "y": {"field": "p", "type": "quantitative", "scale": {"domain": [0.864158, 0.884419], "nice": false, "zero": false}}}},
{"data": {"values": [{"t": "Copyright, 22 Jule 2014", "i": 215.6, "p": 0.87495}, {"t": "http://volume-trade.com/", "i": 215.6, "p": 0.87448}]},
 "mark": {"type": "text", "font": "Liberation Sans", "fontSize": 19, "color": "#FF0000", "align": "left", "baseline": "alphabetic"},
 "encoding": {"x": {"field": "i", "type": "quantitative", "scale": {"domain": [-0.625, 467.375], "nice": false, "zero": false}},
  "y": {"field": "p", "type": "quantitative", "scale": {"domain": [0.864158, 0.884419], "nice": false, "zero": false}}, "text": {"field": "t"}}},
{"data": {"values": [{"t": "NZDUSD,H1  0.86782 0.86830 0.86716 0.86745", "i": 3.6, "p": 0.88422}]},
 "mark": {"type": "text", "font": "Liberation Sans", "fontSize": 11.5, "color": "#000000", "align": "left", "baseline": "middle"},
 "encoding": {"x": {"field": "i", "type": "quantitative", "scale": {"domain": [-0.625, 467.375], "nice": false, "zero": false}},
  "y": {"field": "p", "type": "quantitative", "scale": {"domain": [0.864158, 0.884419], "nice": false, "zero": false}}, "text": {"field": "t"}}},
{"data": {"values": [{"t": "▼", "i": 1.6, "p": 0.88422}]},
 "mark": {"type": "text", "font": "DejaVu Sans", "fontSize": 7, "color": "#000000", "align": "center", "baseline": "middle"},
 "encoding": {"x": {"field": "i", "type": "quantitative", "scale": {"domain": [-0.625, 467.375], "nice": false, "zero": false}},
  "y": {"field": "p", "type": "quantitative", "scale": {"domain": [0.864158, 0.884419], "nice": false, "zero": false}}, "text": {"field": "t"}}},
{"data": {"values": [{"t": "VP GMT +2", "i": 465.3, "p": 0.88285}]},
 "mark": {"type": "text", "font": "Liberation Sans", "fontSize": 10.5, "color": "#808080", "align": "right", "baseline": "middle"},
 "encoding": {"x": {"field": "i", "type": "quantitative", "scale": {"domain": [-0.625, 467.375], "nice": false, "zero": false}},
  "y": {"field": "p", "type": "quantitative", "scale": {"domain": [0.864158, 0.884419], "nice": false, "zero": false}}, "text": {"field": "t"}}},
{"data": {"values": [{"t": "⇧", "i": 206.9, "p": 0.87863}]},
 "mark": {"type": "text", "font": "DejaVu Sans", "fontSize": 12, "color": "#E8503A", "align": "center", "baseline": "middle"},
 "encoding": {"x": {"field": "i", "type": "quantitative", "scale": {"domain": [-0.625, 467.375], "nice": false, "zero": false}},
  "y": {"field": "p", "type": "quantitative", "scale": {"domain": [0.864158, 0.884419], "nice": false, "zero": false}}, "text": {"field": "t"}}},
{"data": {"values": [{"t":"0.88375","p":0.88375},{"t":"0.88295","p":0.88295},{"t":"0.88215","p":0.88215},{"t":"0.88140","p":0.8814},{"t":"0.88060","p":0.8806},{"t":"0.87985","p":0.87985},{"t":"0.87910","p":0.8791},{"t":"0.87830","p":0.8783},{"t":"0.87750","p":0.8775},{"t":"0.87675","p":0.87675},{"t":"0.87595","p":0.87595},{"t":"0.87515","p":0.87515},{"t":"0.87440","p":0.8744},{"t":"0.87360","p":0.8736},{"t":"0.87280","p":0.8728},{"t":"0.87205","p":0.87205},{"t":"0.87125","p":0.87125},{"t":"0.87045","p":0.87045},{"t":"0.86970","p":0.8697},{"t":"0.86890","p":0.8689},{"t":"0.86810","p":0.8681},{"t":"0.86655","p":0.86655},{"t":"0.86580","p":0.8658},{"t":"0.86505","p":0.86505},{"t":"0.86425","p":0.86425}]},
 "mark": {"type": "text", "font": "Liberation Sans", "fontSize": 9.3, "color": "#000000", "align": "left", "baseline": "middle", "clip": false},
 "encoding": {"x": {"datum": 468.875, "type": "quantitative", "scale": {"domain": [-0.625, 467.375], "nice": false, "zero": false}},
  "y": {"field": "p", "type": "quantitative", "scale": {"domain": [0.864158, 0.884419], "nice": false, "zero": false}}, "text": {"field": "t"}}},
{"data": {"values": [{"t": "0.88338", "p": 0.88338, "p1": 0.88324, "p2": 0.88352, "bg": "r"}, {"t": "0.87640", "p": 0.8764, "p1": 0.87626, "p2": 0.87654, "bg": "r"}, {"t": "0.86745", "p": 0.86745, "p1": 0.86731, "p2": 0.86759, "bg": "k"}, {"t": "0.86475", "p": 0.86475, "p1": 0.86461, "p2": 0.86489, "bg": "r"}]},
 "layer": [
  {"mark": {"type": "rect", "clip": false},
   "encoding": {"x": {"datum": 467.6, "type": "quantitative", "scale": {"domain": [-0.625, 467.375], "nice": false, "zero": false}}, "x2": {"datum": 478.4},
    "y": {"field": "p1", "type": "quantitative", "scale": {"domain": [0.864158, 0.884419], "nice": false, "zero": false}}, "y2": {"field": "p2"},
    "color": {"condition": {"test": "datum.bg === 'k'", "value": "#000000"}, "value": "#FF0000"}}},
  {"mark": {"type": "text", "font": "Liberation Sans", "fontSize": 9.3, "color": "#FFFFFF", "align": "left", "baseline": "middle", "clip": false},
   "encoding": {"x": {"datum": 468.5, "type": "quantitative", "scale": {"domain": [-0.625, 467.375], "nice": false, "zero": false}},
    "y": {"field": "p", "type": "quantitative", "scale": {"domain": [0.864158, 0.884419], "nice": false, "zero": false}}, "text": {"field": "t"}}}]},
{"data": {"values": [{"t": "2014.07.07 04:00", "ic": 142, "i1": 132.4, "i2": 151.6}, {"t": "2014.07.10 04:00", "ic": 213.8, "i1": 203.9, "i2": 223.6}]},
 "layer": [
  {"mark": {"type": "rect", "color": "#FF0000", "clip": false},
   "encoding": {"x": {"field": "i1", "type": "quantitative", "scale": {"domain": [-0.625, 467.375], "nice": false, "zero": false}}, "x2": {"field": "i2"},
    "y": {"datum": 0.863788, "type": "quantitative", "scale": {"domain": [0.864158, 0.884419], "nice": false, "zero": false}}, "y2": {"datum": 0.864135}}},
  {"mark": {"type": "text", "font": "Liberation Sans", "fontSize": 9.3, "color": "#FFFFFF", "align": "center", "baseline": "middle", "clip": false},
   "encoding": {"x": {"field": "ic", "type": "quantitative", "scale": {"domain": [-0.625, 467.375], "nice": false, "zero": false}},
    "y": {"datum": 0.863961, "type": "quantitative", "scale": {"domain": [0.864158, 0.884419], "nice": false, "zero": false}}, "text": {"field": "t"}}}]}
]
}
